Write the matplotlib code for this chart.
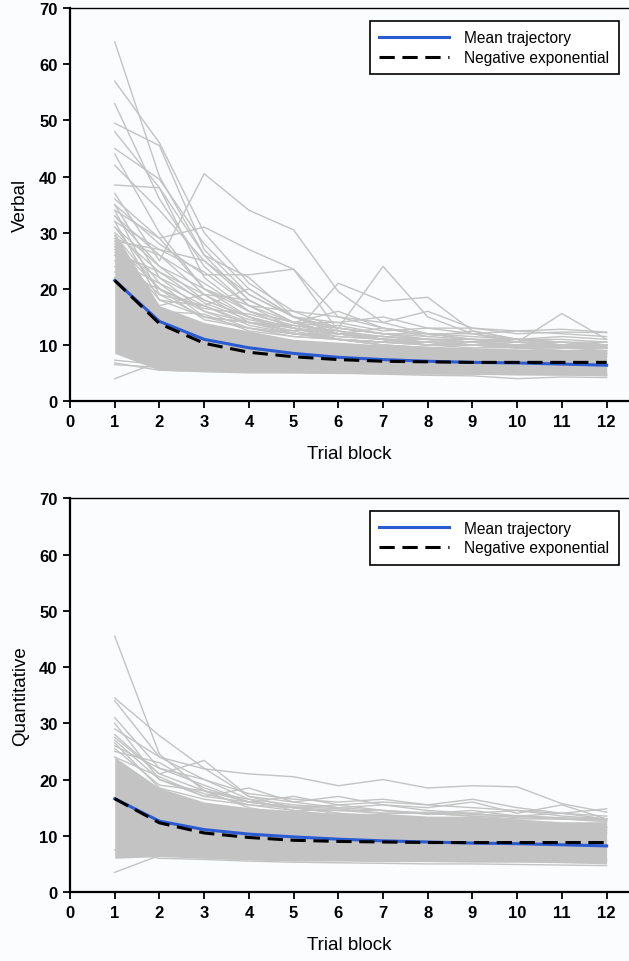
import matplotlib
matplotlib.use('Agg')
from matplotlib import pyplot as plt
from matplotlib.lines import Line2D

plt.rcParams['font.family'] = ['Liberation Sans', 'DejaVu Sans']

blocks = list(range(1, 13))
grey = '#c3c3c3'
blue = '#2a5bd3'

# --- Verbal ---
verbal_mean = [21.5, 14.2, 11.0, 9.5, 8.5, 7.8, 7.4, 7.1, 6.9, 6.8, 6.6, 6.4]
verbal_negexp = [21.5, 13.8, 10.3, 8.7, 7.9, 7.4, 7.1, 7.0, 6.9, 6.9, 6.9, 6.9]
# dense core of the individual trajectories (lower / upper edge)
verbal_core_lo = [8.5, 5.5, 5.2, 5.0, 5.0, 4.9, 4.9, 4.8, 4.8, 4.7, 4.6, 4.6]
verbal_core_hi = [30, 17, 14, 12.5, 11, 10.5, 10, 9.8, 9.5, 9.3, 9.2, 9.0]
# individual trajectories that stand out of the core
verbal_lines = [
    [64, 40, 26, 18, 14, 12, 11, 10.5, 10, 9.5, 9, 9],
    [57, 46, 30, 21, 16, 13, 12, 11, 10.5, 10, 9.5, 9.5],
    [53, 36, 24, 17, 13, 11, 10, 9.5, 9, 9, 8.5, 8.5],
    [49.5, 45.5, 27, 19, 15, 12.5, 11, 10.5, 10, 9.5, 9.5, 9],
    [48, 38, 22, 16, 13, 11, 10, 9.5, 9, 9, 8.5, 8.5],
    [45, 39.5, 28, 20, 15, 12, 11, 10, 10, 9.5, 9.5, 9.5],
    [44, 30, 20, 15, 12, 11, 10, 9.5, 9, 9, 8.5, 8],
    [42, 34, 25, 18, 14, 12, 11, 10.5, 10, 10, 9.5, 9.5],
    [38.5, 38, 26, 22, 15, 13, 12, 11, 10.5, 10, 10, 10],
    [37, 25, 40.5, 34, 30.5, 19.5, 14, 12, 11, 10.5, 10, 10],
    [36, 29, 31, 27, 23.5, 15, 13, 12, 11, 10.5, 10, 10.5],
    [35, 28, 22.5, 22.5, 23.5, 12.5, 11, 10, 9.5, 9.5, 9, 9],
    [33, 24, 18, 15, 12, 21, 17.8, 18.5, 12.5, 11, 10.5, 10],
    [32, 27, 25, 19, 15, 13, 24, 15, 12, 11, 10.5, 10],
    [34, 29, 20, 17, 16, 15, 14, 16, 13, 12, 12.3, 12.2],
    [30, 23, 19, 18, 14, 16, 13, 12, 12, 10.5, 15.6, 11],
    [31, 21, 17, 20, 15, 14, 15, 13, 13, 12.5, 12.8, 12.3],
    [29, 26, 21, 16, 14, 14, 12.5, 13, 12, 12.5, 12, 11.5],
    [28, 20, 16, 14, 12.5, 13.5, 12, 12, 11.5, 11, 11.5, 11],
    [27, 22, 18, 15, 13, 12, 13, 11.5, 12.5, 11, 11, 10.5],
    [26, 19, 17, 14, 13, 12, 11.5, 11, 11, 10.5, 10.5, 10],
    [25, 21, 15, 14, 12, 12, 11, 11, 10.5, 11, 10, 10],
    [35, 22, 16, 13, 11.5, 11, 10.5, 10, 10, 9.5, 9.5, 9.5],
    [34, 19, 15, 14, 12.5, 11, 10.5, 10.5, 10, 10, 9.5, 9.5],
    [33, 26, 19, 15, 13, 12, 11, 10.5, 10.5, 10, 10, 9.5],
    [32, 18, 17, 13.5, 12, 11.5, 11, 10.5, 10, 10, 10, 10],
    [31, 24, 20, 16, 14, 12, 11.5, 11, 10.5, 10.5, 10, 10],
    [29.5, 20, 16.5, 15.5, 13.5, 12.5, 11.5, 11, 11, 10.5, 10.5, 10],
    [28.5, 27, 23, 17, 14, 13, 12, 11.5, 11, 11, 10.5, 10.5],
    [27.5, 18, 15, 13, 12, 11, 10.5, 10, 10, 10, 9.8, 9.6],
    [26.5, 23, 17.5, 14.5, 13, 11.5, 11, 10.5, 10.5, 10, 10, 9.8],
    [24, 17, 19, 14, 13.5, 12, 11, 11, 10.5, 10, 10, 9.8],
    [23, 20, 14.5, 13, 12, 11, 10.5, 10, 10, 9.7, 9.6, 9.5],
    [22, 16, 15.5, 12.5, 11.5, 11, 10.5, 10.5, 10, 10, 9.7, 9.5],
    [7.3, 6.5, 6, 5.8, 5.6, 5.5, 5.4, 5.3, 5.2, 5.1, 5, 5],
    [6.8, 5.5, 5.3, 5.2, 5.1, 5.0, 4.9, 4.9, 4.8, 4.7, 4.7, 4.6],
    [6.5, 6.0, 5.6, 5.4, 5.2, 5.2, 5.0, 5.0, 4.9, 4.9, 4.8, 4.5],
    [4, 7, 6, 5.5, 5.2, 5, 4.8, 4.6, 4.5, 4.0, 4.3, 4.2],
]

# --- Quantitative ---
quant_mean = [16.6, 12.6, 11.1, 10.3, 9.8, 9.4, 9.1, 8.9, 8.7, 8.6, 8.4, 8.2]
quant_negexp = [16.6, 12.3, 10.5, 9.7, 9.2, 9.0, 8.9, 8.8, 8.8, 8.8, 8.8, 8.8]
quant_core_lo = [6.0, 6.3, 6.0, 5.7, 5.5, 5.5, 5.4, 5.4, 5.3, 5.3, 5.2, 5.0]
quant_core_hi = [24, 18.5, 16, 15, 14.5, 14, 14, 13.5, 13.5, 13, 12.5, 12.5]
quant_lines = [
    [45.5, 24.5, 18, 15, 13.5, 12.5, 12, 11.5, 11, 11, 10.5, 10.5],
    [34.5, 27.8, 22, 17, 15, 14, 13, 12.5, 12, 11.5, 11, 11],
    [34, 24, 20, 16.5, 14.5, 13.5, 13, 12.5, 12, 12, 11.5, 11.5],
    [31, 22, 19, 16, 15, 14, 13.5, 13, 12.5, 12, 12, 11.5],
    [29, 24, 21.9, 21, 20.5, 18.9, 20, 18.5, 18.9, 18.7, 15.7, 14.2],
    [28, 21, 23.4, 17, 16, 15, 14.5, 14, 13.5, 13, 13, 12.5],
    [27, 20, 17, 18.5, 16, 17, 15.5, 15, 16, 14, 15.5, 13],
    [26, 22, 20, 17.5, 16.5, 16, 16.5, 15.5, 15, 14.5, 14, 14.8],
    [25.5, 19, 18, 16, 17, 15.5, 16, 15.5, 16.5, 15, 14, 13.5],
    [27.5, 21, 18, 16.5, 15.5, 15, 15.5, 14.5, 14, 14.5, 13.5, 13],
    [24, 20.5, 17, 16, 15, 15.5, 14.5, 14, 14.5, 13.5, 14, 13],
    [30, 20, 17.5, 15.5, 15, 14.5, 14, 14, 13.5, 13.5, 13, 12.8],
    [26.5, 18.5, 16.5, 15.5, 14.5, 14.5, 14.5, 13.8, 14, 13.2, 13, 12.8],
    [25, 23, 18.5, 16, 15.2, 14.8, 14, 14.2, 13.8, 13.6, 13.2, 13],
    [3.5, 6.5, 6.8, 6.5, 6.3, 6.2, 6.0, 6.0, 5.8, 5.8, 5.7, 5.6],
    [7.5, 6.0, 5.8, 5.5, 5.3, 5.2, 5.1, 5.0, 5.0, 4.9, 4.8, 4.7],
]

panels = [
    ('Verbal', verbal_mean, verbal_negexp, verbal_core_lo, verbal_core_hi, verbal_lines),
    ('Quantitative', quant_mean, quant_negexp, quant_core_lo, quant_core_hi, quant_lines),
]
rects = [[0.1113, 0.582, 0.8887, 0.4085], [0.1113, 0.0717, 0.8887, 0.4092]]

fig = plt.figure(figsize=(6.29, 9.62), dpi=100, facecolor='#fbfcfd')

for (nome, media, negexp, lo, hi, linhas), r in zip(panels, rects):
    ax = fig.add_axes(r, facecolor='#fbfcfd')
    ax.fill_between(blocks, lo, hi, color=grey, lw=0, zorder=1)
    for y in linhas:
        ax.plot(blocks, y, color=grey, lw=1.0, zorder=2)
    ax.plot(blocks, media, color=blue, lw=2.2, zorder=3)
    ax.plot(blocks, negexp, color='black', lw=2.2, dashes=(5, 2.5), zorder=4)

    ax.set_xlim(0, 12.5)
    ax.set_ylim(0, 70)
    ax.set_xticks(range(0, 13))
    ax.set_yticks(range(0, 71, 10))
    ax.tick_params(direction='out', length=5, width=1.3, labelsize=12, pad=4)
    for lab in ax.get_xticklabels() + ax.get_yticklabels():
        lab.set_fontweight('bold')
    ax.spines['right'].set_visible(False)
    ax.spines['left'].set_linewidth(1.6)
    ax.spines['bottom'].set_linewidth(1.6)
    ax.spines['top'].set_linewidth(1.0)
    ax.set_xlabel('Trial block', fontsize=13.5, labelpad=12)
    ax.set_ylabel(nome, fontsize=13.5, labelpad=7)

    handles = [Line2D([], [], color=blue, lw=2.2),
               Line2D([], [], color='black', lw=2.2, dashes=(5, 2.5))]
    leg = ax.legend(handles, ['Mean trajectory', 'Negative exponential'],
                    loc='upper right', bbox_to_anchor=(0.982, 0.967),
                    borderaxespad=0, fancybox=False, framealpha=1,
                    edgecolor='black', fontsize=11.2, handlelength=4.5,
                    handletextpad=1.0, labelspacing=0.3, borderpad=0.6)
    leg.get_frame().set_linewidth(1.2)

fig.savefig('out.png', dpi=100, facecolor=fig.get_facecolor())
